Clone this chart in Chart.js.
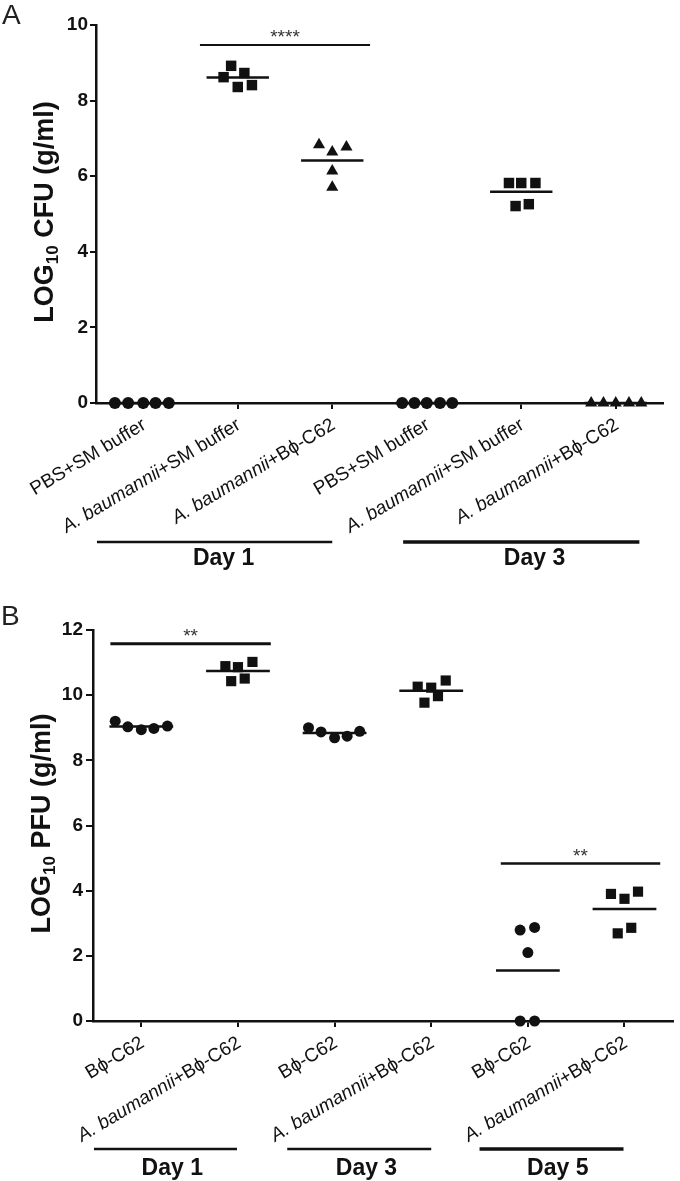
<!DOCTYPE html>
<html>
<head>
<meta charset="utf-8">
<script src="https://cdn.jsdelivr.net/npm/chart.js@4.4.1/dist/chart.umd.min.js"></script>
<style>
  html, body { margin: 0; padding: 0; background: #fff; }
  #wrap { position: relative; width: 680px; height: 1181px; }
  canvas { position: absolute; left: 0; }
  #chartA { top: 0; }
  #chartB { top: 575px; }
</style>
</head>
<body>
<div id="wrap">
  <canvas id="chartA" width="680" height="575"></canvas>
  <canvas id="chartB" width="680" height="606"></canvas>
</div>
<script>
// ---- panel A data: LOG10 CFU ----
const catsA = ['PBS+SM buffer', 'A. baumannii+SM buffer', 'A. baumannii+B\u03D5-C62',
               'PBS+SM buffer', 'A. baumannii+SM buffer', 'A. baumannii+B\u03D5-C62'];
const shapesA = ['circle', 'rect', 'triangle', 'circle', 'rect', 'triangle'];
const valuesA = [
  [0, 0, 0, 0, 0],
  [8.62, 8.92, 8.73, 8.36, 8.41],
  [6.83, 6.64, 6.14, 5.71, 6.77],
  [0, 0, 0, 0, 0],
  [5.82, 5.82, 5.82, 5.21, 5.26],
  [0, 0, 0, 0, 0]
];
// horizontal scatter of the dots inside each group (category units)
const jitterA = [
  [-0.30, -0.16, 0, 0.13, 0.27],
  [-0.15, -0.07, 0.07, 0, 0.15],
  [-0.14, 0, 0, 0, 0.15],
  [-0.26, -0.13, 0, 0.14, 0.27],
  [-0.13, 0, 0.15, -0.06, 0.08],
  [-0.26, -0.13, 0, 0.14, 0.27]
];
const yTicksA = [0, 2, 4, 6, 8, 10];
const daysA = ['Day 1', 'Day 3'];
const sigA = [[0.6, 2.4, 9.47, '****']];

// ---- panel B data: LOG10 PFU ----
const catsB = ['B\u03D5-C62', 'A. baumannii+B\u03D5-C62', 'B\u03D5-C62',
               'A. baumannii+B\u03D5-C62', 'B\u03D5-C62', 'A. baumannii+B\u03D5-C62'];
const shapesB = ['circle', 'rect', 'circle', 'rect', 'circle', 'rect'];
const valuesB = [
  [9.20, 9.03, 8.94, 8.98, 9.05],
  [10.89, 10.86, 11.02, 10.43, 10.51],
  [9.00, 8.87, 8.69, 8.74, 8.89],
  [10.26, 10.23, 10.45, 9.77, 9.97],
  [2.79, 2.87, 2.10, 0, 0],
  [3.90, 3.75, 3.97, 2.69, 2.86]
];
const jitterB = [
  [-0.27, -0.14, 0, 0.13, 0.27],
  [-0.13, 0, 0.15, -0.07, 0.07],
  [-0.27, -0.14, 0, 0.13, 0.26],
  [-0.14, 0, 0.15, -0.07, 0.07],
  [-0.08, 0.07, 0, -0.08, 0.07],
  [-0.14, 0, 0.14, -0.07, 0.07]
];
const yTicksB = [0, 2, 4, 6, 8, 10, 12];
const daysB = ['Day 1', 'Day 3', 'Day 5'];
const sigB = [[-0.32, 1.34, 11.58, '**'], [3.72, 5.37, 4.83, '**']];

const ink = '#111';
const family = '"Liberation Sans", Arial, Helvetica, sans-serif';

// dots + mean line for every group, plus the significance bars
function buildDatasets(values, jitter, shapes, radii, sig, sigWidths) {
  const sets = [];
  values.forEach((vals, i) => {
    sets.push({
      data: vals.map((v, k) => ({ x: i + jitter[i][k], y: v })),
      pointStyle: shapes[i],
      pointRadius: radii[shapes[i]],
      pointBackgroundColor: ink,
      pointBorderWidth: 0,
      clip: false
    });
    const mean = vals.reduce((a, b) => a + b, 0) / vals.length;
    sets.push({
      data: [{ x: i - 0.33, y: mean }, { x: i + 0.33, y: mean }],
      showLine: true, borderColor: ink, borderWidth: 2.5, pointRadius: 0, clip: false
    });
  });
  sig.forEach((s, j) => {
    sets.push({
      data: [{ x: s[0], y: s[2] }, { x: s[1], y: s[2] }],
      showLine: true, borderColor: ink, borderWidth: sigWidths[j], pointRadius: 0, clip: false
    });
  });
  return sets;
}

function drawLabel(ctx, text, size) {
  // "A. baumannii" is italic, the rest upright; right-aligned at the origin
  const m = text.match(/^(A\. baumannii)(.*)$/);
  const parts = m ? [[m[1], 'italic '], [m[2], '']] : [[text, '']];
  let w = 0;
  parts.forEach(p => { ctx.font = `${p[1]}${size}px ${family}`; w += ctx.measureText(p[0]).width; });
  let cx = -w;
  parts.forEach(p => {
    ctx.font = `${p[1]}${size}px ${family}`;
    ctx.fillText(p[0], cx, 0);
    cx += ctx.measureText(p[0]).width;
  });
}

function extrasPlugin(cfg) {
  return {
    id: 'extras',
    afterDraw(chart) {
      const { ctx, chartArea, scales: { x, y } } = chart;
      const axisY = y.getPixelForValue(0);
      ctx.save();
      ctx.fillStyle = ink;
      ctx.strokeStyle = ink;
      ctx.textBaseline = 'alphabetic';

      // rotated category labels
      ctx.textAlign = 'left';
      cfg.cats.forEach((lab, i) => {
        ctx.save();
        ctx.translate(x.getPixelForValue(i) + 4, axisY + 25);
        ctx.rotate(-31 * Math.PI / 180);
        drawLabel(ctx, lab, 19);
        ctx.restore();
      });

      // day group bars and names
      cfg.days.forEach((d, j) => {
        const span = cfg.dayLines[j];
        ctx.lineWidth = cfg.dayWidths[j];
        ctx.beginPath();
        ctx.moveTo(x.getPixelForValue(span[0]), axisY + cfg.dayLineOff);
        ctx.lineTo(x.getPixelForValue(span[1]), axisY + cfg.dayLineOff);
        ctx.stroke();
        ctx.font = `bold 23px ${family}`;
        ctx.textAlign = 'center';
        ctx.fillText(d, x.getPixelForValue(cfg.dayText[j]), axisY + cfg.dayTextOff);
      });

      // significance stars
      ctx.font = `19px ${family}`;
      ctx.textAlign = 'center';
      ctx.fillStyle = '#333';
      cfg.sig.forEach(s => {
        ctx.fillText(s[3], x.getPixelForValue((s[0] + s[1]) / 2), y.getPixelForValue(s[2]) - 2);
      });
      ctx.fillStyle = ink;

      // y axis title with subscript
      ctx.save();
      ctx.translate(cfg.titleX, (chartArea.top + chartArea.bottom) / 2 - 2);
      ctx.rotate(-Math.PI / 2);
      ctx.textAlign = 'left';
      const big = `bold 27px ${family}`, small = `bold 17px ${family}`;
      ctx.font = big;
      const w1 = ctx.measureText('LOG').width;
      const w3 = ctx.measureText(cfg.titleRest).width;
      ctx.font = small;
      const w2 = ctx.measureText('10').width;
      let tx = -(w1 + w2 + w3) / 2;
      ctx.font = big; ctx.fillText('LOG', tx, 9.7); tx += w1;
      ctx.font = small; ctx.fillText('10', tx, 15); tx += w2;
      ctx.font = big; ctx.fillText(cfg.titleRest, tx, 9.7);
      ctx.restore();

      // panel letter
      ctx.font = `28px ${family}`;
      ctx.textAlign = 'left';
      ctx.fillStyle = '#222';
      ctx.fillText(cfg.letter, cfg.letterX, cfg.letterY);
      ctx.restore();
    }
  };
}

function makeChart(id, cfg) {
  return new Chart(document.getElementById(id), {
    type: 'scatter',
    data: { datasets: buildDatasets(cfg.values, cfg.jitter, cfg.shapes, cfg.radii, cfg.sig, cfg.sigWidths) },
    options: {
      responsive: false,
      animation: false,
      layout: { padding: { top: cfg.padTop, right: cfg.padRight, left: 0, bottom: 0 } },
      plugins: { legend: { display: false }, tooltip: { enabled: false } },
      scales: {
        x: {
          type: 'linear', min: -0.5, max: cfg.cats.length - 0.5,
          afterBuildTicks: s => { s.ticks = cfg.cats.map((c, i) => ({ value: i })); },
          afterFit: s => { s.height = cfg.xHeight; },
          ticks: { display: false },
          grid: { drawOnChartArea: false, drawTicks: true, tickLength: 6, color: ink, lineWidth: 2 },
          border: { display: true, color: ink, width: 2.5 }
        },
        y: {
          min: 0, max: cfg.yTicks[cfg.yTicks.length - 1],
          afterBuildTicks: s => { s.ticks = cfg.yTicks.map(v => ({ value: v })); },
          afterFit: s => { s.width = cfg.yWidth; },
          ticks: { font: { family, size: 19, weight: 'bold' }, color: ink, padding: cfg.tickPad },
          grid: { drawOnChartArea: false, tickLength: cfg.tickLen, color: ink, lineWidth: 2 },
          border: { color: ink, width: 2.5 }
        }
      }
    },
    plugins: [extrasPlugin(cfg)]
  });
}

makeChart('chartA', {
  cats: catsA, values: valuesA, jitter: jitterA, shapes: shapesA, yTicks: yTicksA,
  radii: { circle: 6, rect: 7.4, triangle: 7 },
  sig: sigA, sigWidths: [2],
  days: daysA, dayLines: [[-0.49, 2.0], [2.75, 5.25]], dayText: [0.85, 4.14],
  dayWidths: [2.5, 3.5], dayLineOff: 139, dayTextOff: 162,
  padTop: 25, padRight: 17, xHeight: 172, yWidth: 96, tickLen: 6, tickPad: 2,
  titleX: 43, titleRest: ' CFU (g/ml)', letter: 'A', letterX: 2, letterY: 24
});

makeChart('chartB', {
  cats: catsB, values: valuesB, jitter: jitterB, shapes: shapesB, yTicks: yTicksB,
  radii: { circle: 5.5, rect: 7.2, triangle: 6 },
  sig: sigB, sigWidths: [3, 2.5],
  days: daysB, dayLines: [[-0.49, 0.99], [1.51, 3.0], [3.5, 4.99]], dayText: [0.32, 2.33, 4.31],
  dayWidths: [2.5, 2.5, 3.5], dayLineOff: 128, dayTextOff: 154,
  padTop: 55, padRight: 3, xHeight: 160, yWidth: 93, tickLen: 7, tickPad: 3,
  titleX: 40, titleRest: ' PFU (g/ml)', letter: 'B', letterX: 1, letterY: 50
});
</script>
</body>
</html>
